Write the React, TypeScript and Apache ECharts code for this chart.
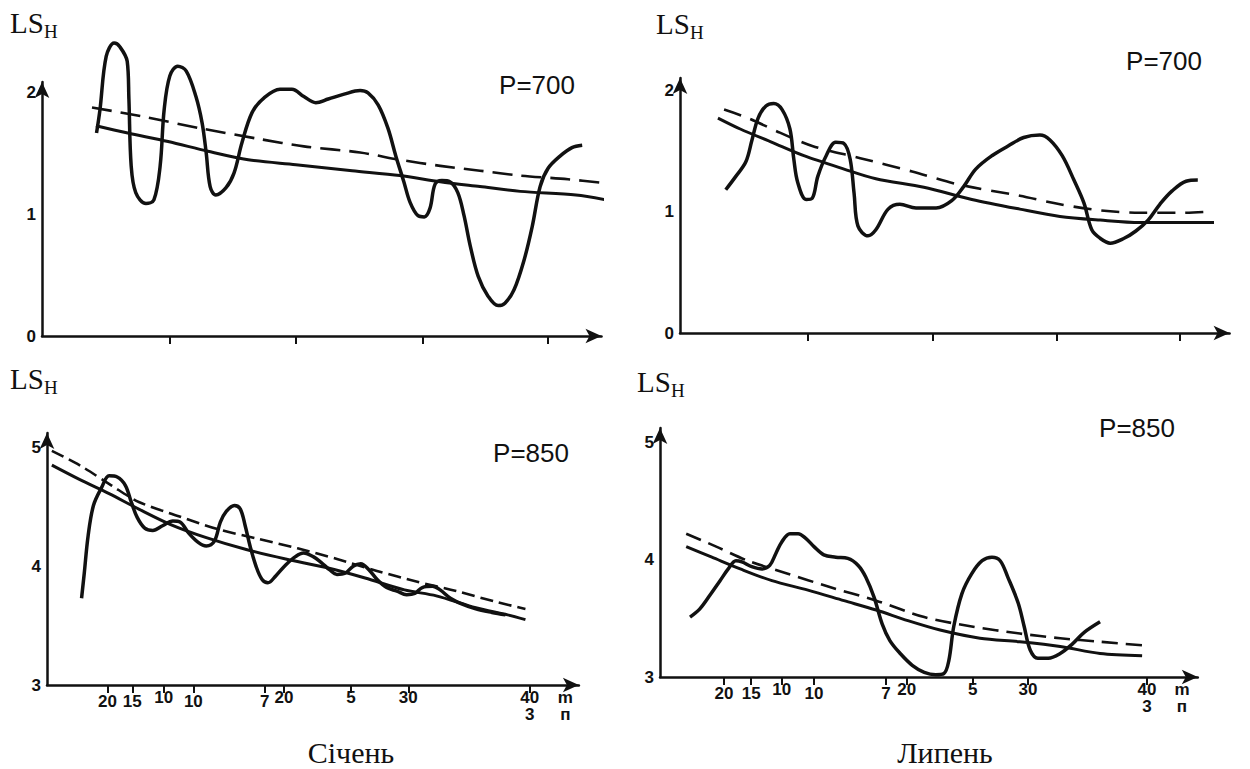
import React, { useEffect, useRef } from 'react';
import * as echarts from 'echarts';

const SANS = '"Liberation Sans", Arial, sans-serif';
const SERIF = '"Liberation Serif", "Times New Roman", serif';
const INK = '#111';

// ---- Січень, P=700 ----
const janP700Actual: [number, number][] = [
  [9.6, 1.67], [10.2, 1.86], [11.3, 2.3], [12.7, 2.41], [13.7, 2.38], [15.0, 2.26], [15.3, 1.95],
  [15.7, 1.4], [16.5, 1.18], [18.3, 1.09], [19.7, 1.12], [20.8, 1.4], [21.5, 1.86], [22.5, 2.14],
  [23.9, 2.22], [25.4, 2.18], [27.1, 1.97], [28.2, 1.75], [28.9, 1.51], [29.6, 1.23], [30.6, 1.16],
  [32.4, 1.22], [33.8, 1.34], [35.2, 1.59], [37.0, 1.84], [39.1, 1.96], [41.9, 2.03], [44.0, 2.03],
  [46.1, 1.97], [48.2, 1.92], [50.4, 1.95], [53.2, 1.99], [56.0, 2.02], [57.4, 2.0], [59.2, 1.9],
  [60.9, 1.71], [62.3, 1.48], [63.7, 1.27], [64.8, 1.1], [66.2, 0.99], [67.3, 0.98], [68.3, 1.05],
  [69.2, 1.25], [70.4, 1.28], [71.8, 1.27], [73.2, 1.18], [74.3, 0.99], [75.4, 0.74], [76.8, 0.49],
  [78.5, 0.33], [80.3, 0.25], [81.5, 0.27], [83.1, 0.38], [84.9, 0.63], [86.3, 0.9], [87.7, 1.23],
  [89.1, 1.38], [91.2, 1.48], [93.3, 1.55], [95.1, 1.57],
];
const janP700Trend: [number, number][] = [
  [9.5, 1.73], [15.1, 1.67], [22.2, 1.6], [29.2, 1.52], [36.3, 1.45], [44.7, 1.41], [54.6, 1.36],
  [63.0, 1.32], [70.1, 1.27], [77.1, 1.23], [84.2, 1.19], [94.0, 1.16], [99.3, 1.12],
];
const janP700Mean: [number, number][] = [
  [8.8, 1.88], [17.3, 1.81], [27.8, 1.71], [38.4, 1.62], [46.1, 1.56], [56.0, 1.51], [63.0, 1.45],
  [70.1, 1.4], [77.1, 1.36], [84.2, 1.32], [92.6, 1.29], [98.6, 1.26],
];

// ---- Липень, P=700 ----
const julP700Actual: [number, number][] = [
  [8.2, 1.18], [10.0, 1.29], [11.8, 1.41], [12.9, 1.59], [14.0, 1.77], [15.4, 1.87], [16.8, 1.89],
  [18.3, 1.84], [19.7, 1.68], [20.4, 1.43], [21.1, 1.24], [22.6, 1.1], [23.7, 1.11], [24.7, 1.29],
  [26.2, 1.46], [27.9, 1.57], [29.4, 1.56], [30.5, 1.43], [31.2, 1.15], [31.9, 0.88], [33.7, 0.8],
  [35.1, 0.85], [37.3, 1.02], [39.4, 1.06], [42.3, 1.03], [45.9, 1.03], [48.7, 1.09], [50.9, 1.21],
  [53.0, 1.35], [55.9, 1.46], [58.8, 1.54], [61.6, 1.61], [64.5, 1.63], [66.3, 1.59], [68.5, 1.46],
  [70.6, 1.26], [72.4, 1.07], [73.8, 0.85], [75.3, 0.78], [77.1, 0.74], [79.6, 0.78], [81.7, 0.84],
  [83.9, 0.93], [86.0, 1.06], [88.2, 1.17], [90.7, 1.25], [92.8, 1.26],
];
const julP700Trend: [number, number][] = [
  [6.8, 1.77], [10.8, 1.68], [16.5, 1.57], [22.2, 1.46], [29.4, 1.35], [35.1, 1.27], [43.7, 1.2],
  [52.3, 1.1], [60.9, 1.02], [68.1, 0.96], [75.3, 0.93], [82.4, 0.91], [89.6, 0.91], [95.7, 0.91],
];
const julP700Mean: [number, number][] = [
  [7.9, 1.84], [12.2, 1.77], [17.9, 1.65], [23.7, 1.54], [32.3, 1.44], [41.6, 1.33], [50.2, 1.22],
  [60.9, 1.13], [68.1, 1.06], [75.3, 1.01], [82.4, 0.99], [89.6, 0.99], [95.0, 1.0],
];

// ---- Січень, P=850 ----
const janP850Actual: [number, number][] = [
  [6.4, 3.73], [6.9, 3.94], [7.6, 4.25], [8.6, 4.51], [10.1, 4.66], [11.5, 4.76], [13.0, 4.75],
  [14.5, 4.68], [15.6, 4.54], [16.7, 4.41], [18.1, 4.32], [19.6, 4.3], [21.4, 4.34], [23.3, 4.38],
  [24.7, 4.37], [26.2, 4.28], [28.0, 4.2], [29.5, 4.17], [31.0, 4.21], [32.1, 4.37], [33.2, 4.46],
  [34.7, 4.51], [35.8, 4.48], [36.7, 4.34], [37.6, 4.17], [38.7, 4.0], [39.8, 3.89], [40.9, 3.86],
  [42.4, 3.92], [44.2, 4.01], [46.0, 4.08], [47.5, 4.11], [49.3, 4.08], [50.8, 4.03], [52.3, 3.97],
  [53.7, 3.93], [55.2, 3.94], [56.7, 4.0], [58.1, 4.02], [59.6, 3.97], [61.1, 3.89], [62.9, 3.82],
  [64.8, 3.79], [66.6, 3.76], [68.1, 3.77], [69.5, 3.82], [71.4, 3.83], [72.8, 3.8], [74.7, 3.73],
  [76.9, 3.68], [79.4, 3.64], [82.4, 3.61], [84.9, 3.59],
];
const janP850Trend: [number, number][] = [
  [0.9, 4.85], [6.0, 4.73], [11.5, 4.61], [17.0, 4.48], [22.9, 4.35], [29.5, 4.24], [36.9, 4.14],
  [44.2, 4.06], [51.5, 3.99], [58.9, 3.9], [66.2, 3.8], [72.1, 3.75], [79.4, 3.65], [85.3, 3.59],
  [88.6, 3.55],
];
const janP850Mean: [number, number][] = [
  [0.9, 4.97], [6.0, 4.85], [11.9, 4.68], [17.0, 4.54], [24.4, 4.42], [31.7, 4.31], [39.1, 4.23],
  [46.4, 4.15], [53.7, 4.06], [61.1, 3.96], [68.4, 3.87], [75.8, 3.79], [83.1, 3.7], [88.6, 3.64],
];

// ---- Липень, P=850 ----
const julP850Actual: [number, number][] = [
  [5.5, 3.51], [7.3, 3.58], [9.2, 3.7], [11.0, 3.82], [12.5, 3.92], [13.9, 3.99], [15.0, 3.98],
  [16.8, 3.94], [18.7, 3.92], [20.1, 3.95], [21.2, 4.05], [22.3, 4.15], [23.8, 4.22], [25.3, 4.22],
  [26.7, 4.18], [28.2, 4.11], [30.0, 4.04], [32.2, 4.02], [34.4, 4.01], [36.3, 3.95], [37.7, 3.85],
  [39.2, 3.68], [40.7, 3.45], [42.1, 3.31], [44.0, 3.2], [46.2, 3.1], [48.4, 3.04], [50.5, 3.02],
  [52.0, 3.03], [52.9, 3.14], [53.8, 3.43], [55.3, 3.71], [57.1, 3.88], [59.0, 3.99], [60.8, 4.02],
  [62.3, 3.99], [63.7, 3.85], [65.6, 3.63], [66.7, 3.43], [67.8, 3.23], [69.2, 3.16], [71.1, 3.16],
  [73.3, 3.2], [75.5, 3.28], [77.7, 3.38], [80.6, 3.47],
];
const julP850Trend: [number, number][] = [
  [4.8, 4.11], [9.5, 4.02], [14.7, 3.92], [20.5, 3.82], [27.1, 3.74], [33.7, 3.65], [39.6, 3.57],
  [45.4, 3.48], [51.3, 3.4], [58.6, 3.33], [65.9, 3.3], [73.3, 3.26], [80.6, 3.2], [88.3, 3.18],
];
const julP850Mean: [number, number][] = [
  [4.8, 4.22], [10.3, 4.11], [16.1, 3.99], [23.4, 3.88], [30.8, 3.77], [39.6, 3.65], [48.4, 3.51],
  [57.1, 3.43], [65.9, 3.37], [73.3, 3.33], [80.6, 3.3], [88.3, 3.27],
];

// ---- axis ticks ----
const topTicksJan = [22.5, 44.7, 67.1, 89.1];
const topTicksJul = [22.9, 45.3, 67.6, 89.6];
const bottomTickLabels = ['20', '15', '10', '10', '7', '20', '5', '30', '40\n3', 'm\nп'];
const bottomTickLevels = ['lo', 'lo', 'hi', 'lo', 'lo', 'hi', 'hi', 'hi', 'hi', 'hi'];
const bottomTicksJan = [11.2, 15.8, 21.6, 27.1, 40.3, 43.9, 56.3, 66.9, 89.4, 96.0];
const bottomTicksJul = [11.7, 16.7, 22.3, 28.2, 41.4, 45.2, 57.3, 67.4, 89.2, 95.6];

const panelLabels = ['P=700', 'P=700', 'P=850', 'P=850'];
const monthLabels = ['Січень', 'Липень'];

function xAxisDef(gridIndex: number, ticks: number[], labelled: boolean) {
  const tickValues = labelled ? ticks.slice(0, ticks.length - 1) : ticks;
  return {
    type: 'value',
    gridIndex,
    min: 0,
    max: 98.5,
    splitLine: { show: false },
    axisLine: {
      show: true,
      onZero: false,
      symbol: ['none', 'arrow'],
      symbolSize: [11, 16],
      lineStyle: { color: INK, width: 2.5 },
    },
    axisTick: {
      show: true,
      customValues: tickValues,
      length: 8,
      lineStyle: { color: INK, width: 2 },
    },
    axisLabel: labelled
      ? {
          show: true,
          customValues: ticks,
          margin: 4,
          fontSize: 17,
          fontWeight: 'bold',
          fontFamily: SANS,
          color: INK,
          formatter: (v: number) => {
            const i = ticks.findIndex((t) => Math.abs(t - v) < 1e-6);
            if (i < 0) return '';
            const lvl = bottomTickLevels[i];
            return bottomTickLabels[i]
              .split('\n')
              .map((s) => `{${lvl}|${s}}`)
              .join('\n');
          },
          rich: {
            hi: { fontFamily: SANS, fontWeight: 'bold', fontSize: 17, lineHeight: 17, color: INK },
            lo: {
              fontFamily: SANS,
              fontWeight: 'bold',
              fontSize: 17,
              lineHeight: 17,
              color: INK,
              padding: [7, 0, 0, 0],
            },
          },
        }
      : { show: false },
  };
}

function yAxisDef(gridIndex: number, min: number, max: number) {
  return {
    type: 'value',
    gridIndex,
    min,
    max,
    interval: 1,
    splitLine: { show: false },
    axisTick: { show: false },
    axisLine: {
      show: true,
      onZero: false,
      symbol: ['none', 'arrow'],
      symbolSize: [11, 16],
      lineStyle: { color: INK, width: 2.5 },
    },
    axisLabel: {
      margin: 6,
      color: INK,
      fontFamily: SANS,
      fontWeight: 'bold',
      fontSize: 17,
      formatter: (v: number) => (Math.abs(v - Math.round(v)) < 1e-6 ? String(Math.round(v)) : ''),
    },
  };
}

function lineSeries(idx: number, data: [number, number][], kind: 'actual' | 'trend' | 'mean', dash: number[]) {
  return {
    type: 'line',
    xAxisIndex: idx,
    yAxisIndex: idx,
    data,
    showSymbol: false,
    symbol: 'none',
    clip: false,
    smooth: kind === 'actual' ? 0.35 : 0.3,
    silent: true,
    lineStyle: {
      color: INK,
      width: kind === 'actual' ? 3.5 : kind === 'trend' ? 3 : 2.6,
      type: kind === 'mean' ? dash : 'solid',
      cap: 'butt',
      join: 'round',
    },
  };
}

function lsLabel(x: number, y: number) {
  return [
    {
      type: 'text',
      x,
      y,
      style: { text: 'LS', fontFamily: SERIF, fontSize: 29, fill: INK, align: 'left', verticalAlign: 'middle' },
    },
    {
      type: 'text',
      x: x + 34,
      y: y + 8,
      style: { text: 'H', fontFamily: SERIF, fontSize: 19, fill: INK, align: 'left', verticalAlign: 'middle' },
    },
  ];
}

function pLabel(text: string, x: number, y: number) {
  return {
    type: 'text',
    x,
    y,
    style: { text, fontFamily: SANS, fontSize: 26, fill: INK, align: 'center', verticalAlign: 'middle' },
  };
}

function monthLabel(text: string, x: number, y: number) {
  return {
    type: 'text',
    x,
    y,
    style: { text, fontFamily: SERIF, fontSize: 30, fill: INK, align: 'center', verticalAlign: 'middle' },
  };
}

export default function App() {
  const ref = useRef<HTMLDivElement>(null);
  useEffect(() => {
    if (!ref.current) return;
    const chart = echarts.init(ref.current, undefined, { renderer: 'svg' });
    chart.setOption({
      animation: false,
      backgroundColor: '#ffffff',
      grid: [
        { left: 42, top: 82, width: 559.5, height: 254 },
        { left: 680, top: 78, width: 549.6, height: 255 },
        { left: 47, top: 433, width: 531.9, height: 252 },
        { left: 660, top: 428, width: 537.8, height: 249 },
      ],
      xAxis: [
        xAxisDef(0, topTicksJan, false),
        xAxisDef(1, topTicksJul, false),
        xAxisDef(2, bottomTicksJan, true),
        xAxisDef(3, bottomTicksJul, true),
      ],
      yAxis: [yAxisDef(0, 0, 2.09), yAxisDef(1, 0, 2.1), yAxisDef(2, 3, 5.12), yAxisDef(3, 3, 5.12)],
      series: [
        lineSeries(0, janP700Actual, 'actual', [20, 9]),
        lineSeries(0, janP700Trend, 'trend', [20, 9]),
        lineSeries(0, janP700Mean, 'mean', [20, 9]),
        lineSeries(1, julP700Actual, 'actual', [18, 10]),
        lineSeries(1, julP700Trend, 'trend', [18, 10]),
        lineSeries(1, julP700Mean, 'mean', [18, 10]),
        lineSeries(2, janP850Actual, 'actual', [13, 6]),
        lineSeries(2, janP850Trend, 'trend', [13, 6]),
        lineSeries(2, janP850Mean, 'mean', [13, 6]),
        lineSeries(3, julP850Actual, 'actual', [16, 8]),
        lineSeries(3, julP850Trend, 'trend', [16, 8]),
        lineSeries(3, julP850Mean, 'mean', [16, 8]),
      ],
      graphic: [
        ...lsLabel(10, 23),
        ...lsLabel(656, 24),
        ...lsLabel(10, 379),
        ...lsLabel(637, 382),
        pLabel(panelLabels[0], 537, 85),
        pLabel(panelLabels[1], 1164, 61),
        pLabel(panelLabels[2], 531, 453),
        pLabel(panelLabels[3], 1137, 428),
        monthLabel(monthLabels[0], 351, 752),
        monthLabel(monthLabels[1], 945, 752),
      ],
    });
    return () => chart.dispose();
  }, []);
  return (
    <div
      ref={ref}
      style={{ position: 'fixed', left: 0, top: 0, width: 1250, height: 769, background: '#fff' }}
    />
  );
}
